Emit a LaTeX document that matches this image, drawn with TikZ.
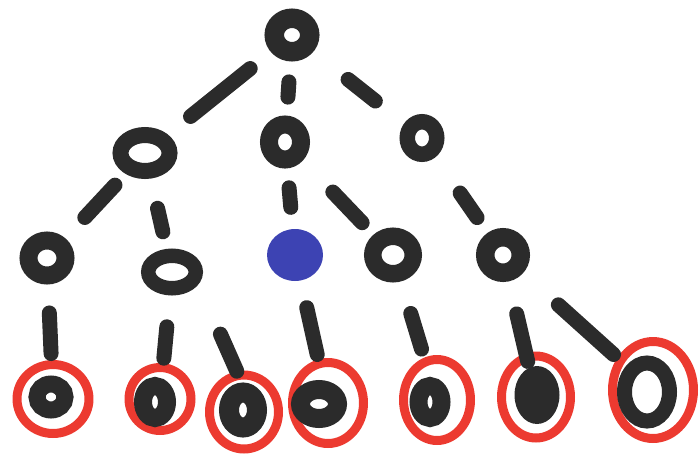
\documentclass[tikz,border=0pt]{standalone}
\usepackage{tikz}
\usetikzlibrary{shapes.geometric}
\definecolor{inkGray}{HTML}{2B2B2B}
\definecolor{markRed}{HTML}{EC3A30}
\definecolor{markBlue}{HTML}{3D43B3}
\tikzset{
  knot/.style n args={3}{ellipse,draw=inkGray,inner sep=0pt,line width=#3,
    minimum width={#1-#3},minimum height={#2-#3}},
  dot/.style n args={3}{ellipse,fill=#1,inner sep=0pt,minimum width=#2,minimum height=#3},
  halo/.style n args={2}{ellipse,draw=markRed,inner sep=0pt,line width=0.18cm,
    minimum width={#1-0.18cm},minimum height={#2-0.18cm}},
  link/.style n args={2}{draw=inkGray,line width=0.3cm,line cap=round,
    shorten <=#1,shorten >=#2}
}

\begin{document}
\begin{tikzpicture}[x=0.02cm,y=-0.02cm]
  \useasboundingbox (0,0) rectangle (699,457);
  % marked leaves
  \node[halo={1.62cm}{1.56cm}] (r1) at (53,399) {};
  \node[halo={1.42cm}{1.44cm}] (r2) at (160,399) {};
  \node[halo={1.56cm}{1.66cm}] (r3) at (244,412) {};
  \node[halo={1.60cm}{1.80cm}] (r4) at (328,403) {};
  \node[halo={1.52cm}{1.80cm}] (r5) at (437,400) {};
  \node[halo={1.56cm}{1.82cm}] (r6) at (536,397) {};
  \node[halo={1.80cm}{2.12cm}] (r7) at (653,390) {};
  % tree
  \node[knot={1.10cm}{1.06cm}{0.39cm}] (root) at (292,35) {};
  \node[knot={1.30cm}{1.04cm}{0.32cm}] (n1) at (145,153) {};
  \node[knot={1.00cm}{1.06cm}{0.36cm}] (n2) at (285,142) {};
  \node[knot={0.90cm}{0.96cm}{0.31cm}] (n3) at (422,138) {};
  \node[knot={1.10cm}{1.06cm}{0.36cm}] (m1) at (47,258) {};
  \node[knot={1.24cm}{0.94cm}{0.29cm}] (m2) at (172,272) {};
  \node[dot={markBlue}{1.12cm}{1.04cm}] (m3) at (295,255) {};
  \node[knot={1.16cm}{1.10cm}{0.35cm}] (m4) at (393,255) {};
  \node[knot={1.08cm}{1.08cm}{0.37cm}] (m5) at (503,255) {};
  \node[knot={0.90cm}{0.86cm}{0.34cm}] (l1) at (51,397) {};
  \node[knot={0.84cm}{1.00cm}{0.36cm}] (l2) at (155,402) {};
  \node[knot={0.96cm}{1.10cm}{0.40cm}] (l3) at (243,410) {};
  \node[knot={1.12cm}{0.96cm}{0.38cm}] (l4) at (319,404) {};
  \node[knot={0.82cm}{1.00cm}{0.36cm}] (l5) at (430,402) {};
  \node[dot={inkGray}{0.90cm}{1.16cm}] (l6) at (537,395) {};
  \node[knot={1.20cm}{1.46cm}{0.30cm}] (l7) at (647,392) {};
  % dashes between nodes
  \foreach \a/\b/\s/\t in {root/n1/0.53/0.58, root/n2/0.41/0.37, root/n3/0.89/0.73,
      n1/m1/0.31/0.57, n1/m2/0.61/0.35, n2/m3/0.39/0.43, n2/m4/0.87/0.33,
      n3/m5/0.87/0.37, m1/r1/0.57/0.13, m2/r2/0.63/0.1, m2.-25/r3.100/1.09/0,
      m3/r4/0.55/0.1, m4/r5/0.67/0.18, m5/r6/0.67/-0.17, m5/r7/0.95/0.1}
    \draw[link={\s cm}{\t cm}] (\a) -- (\b);
\end{tikzpicture}
\end{document}
